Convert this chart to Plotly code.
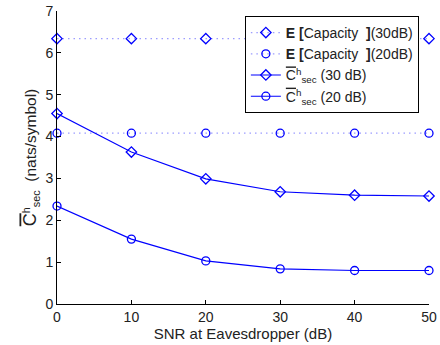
import plotly.graph_objects as go

snr = [0, 10, 20, 30, 40, 50]
cap_30 = [6.34, 6.34, 6.34, 6.34, 6.34, 6.34]
cap_20 = [4.08, 4.08, 4.08, 4.08, 4.08, 4.08]
sec_30 = [4.55, 3.63, 2.99, 2.68, 2.60, 2.58]
sec_20 = [2.34, 1.55, 1.03, 0.84, 0.80, 0.80]

blue = "#0000ff"
ov = '<span style="text-decoration:overline">C</span>'
ovy = '<span style="text-decoration:overline;font-size:18px">C</span>'
names = [
    "<b>E [</b>Capacity  <b>]</b>(30dB)",
    "<b>E [</b>Capacity  <b>]</b>(20dB)",
    ov + "<sup>h</sup><sub>sec</sub> (30 dB)",
    ov + "<sup>h</sup><sub>sec</sub> (20 dB)",
]
series = [cap_30, cap_20, sec_30, sec_20]
symbols = ["diamond-open", "circle-open", "diamond-open", "circle-open"]
dashes = ["1.5px,4px", "1.5px,4px", "solid", "solid"]
widths = [1.2, 1.2, 1.1, 1.1]
colors = ["rgba(90,90,255,0.6)", "rgba(90,90,255,0.6)", blue, blue]

fig = go.Figure()
for y, n, s, d, w, c in zip(series, names, symbols, dashes, widths, colors):
    fig.add_trace(go.Scatter(
        x=snr, y=y, name=n, mode="lines+markers",
        line=dict(color=c, dash=d, width=w),
        marker=dict(symbol=s, size=8, color=blue, line=dict(color=blue, width=1.3)),
        cliponaxis=False,
    ))

fig.update_layout(
    width=440, height=345,
    margin=dict(l=57, r=11, t=11, b=41),
    paper_bgcolor="white", plot_bgcolor="white",
    font=dict(family="Liberation Sans, Arial, sans-serif", size=14, color="#222"),
    showlegend=True,
    legend=dict(x=0.505, y=0.983, xanchor="left", yanchor="top",
                bordercolor="black", borderwidth=1, bgcolor="white",
                font=dict(size=14), tracegroupgap=0, itemwidth=30),
    xaxis=dict(range=[0, 50], tickvals=[0, 10, 20, 30, 40, 50],
               showline=True, linecolor="black", linewidth=1,
               ticks="inside", ticklen=4, tickcolor="black",
               showgrid=False, zeroline=False, mirror=False, automargin=False,
               tickfont=dict(size=14),
               title=dict(text="SNR at Eavesdropper (dB)", standoff=0, font=dict(size=15))),
    yaxis=dict(range=[0, 7], tickvals=[0, 1, 2, 3, 4, 5, 6, 7],
               showline=True, linecolor="black", linewidth=1,
               ticks="inside", ticklen=4, tickcolor="black",
               showgrid=False, zeroline=False, mirror=False, automargin=False,
               tickfont=dict(size=14),
               title=dict(text=ovy + "<sup>h</sup><sub>sec</sub>  (nats/symbol)", standoff=4, font=dict(size=15.5))),
)

fig.write_html("out.html")
